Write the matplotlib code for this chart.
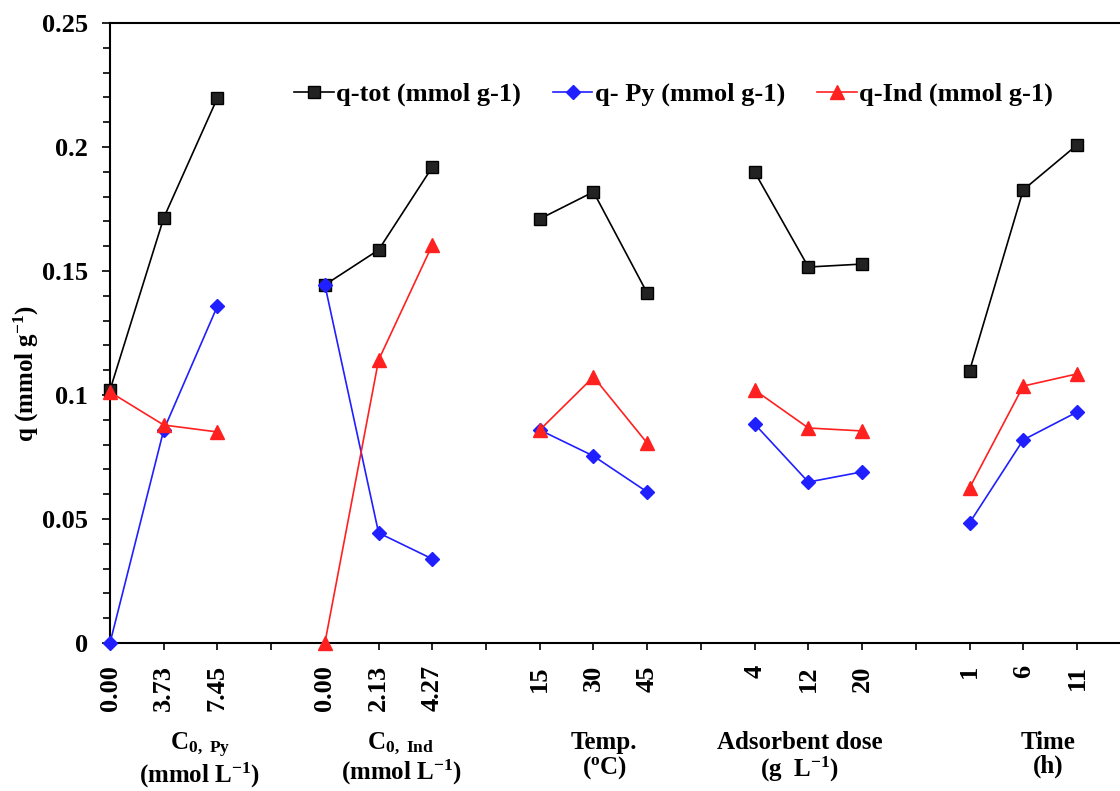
import matplotlib.pyplot as plt
from matplotlib.ticker import MultipleLocator

plt.rcParams['font.family'] = ['Liberation Serif', 'DejaVu Serif']
plt.rcParams['font.weight'] = 'bold'
plt.rcParams['mathtext.fontset'] = 'custom'
plt.rcParams['mathtext.rm'] = 'Liberation Serif:bold'
plt.rcParams['mathtext.it'] = 'Liberation Serif:bold'
plt.rcParams['mathtext.bf'] = 'Liberation Serif:bold'

# five experiment groups, three points each, with a blank slot between groups
tick_labels = ['0.00', '3.73', '7.45', '',
               '0.00', '2.13', '4.27', '',
               '15', '30', '45', '',
               '4', '12', '20', '',
               '1', '6', '11']

q_tot = [[0.102, 0.1714, 0.2198],
         [0.1444, 0.1585, 0.1919],
         [0.171, 0.1819, 0.1411],
         [0.1899, 0.1516, 0.1528],
         [0.1097, 0.1827, 0.2008]]
q_py = [[0.0, 0.0859, 0.1359],
        [0.1444, 0.0444, 0.0339],
        [0.0859, 0.0754, 0.0609],
        [0.0883, 0.0649, 0.069],
        [0.0484, 0.0819, 0.0931]]
q_ind = [[0.1012, 0.0879, 0.0851],
         [0.0, 0.1141, 0.1605],
         [0.0859, 0.1073, 0.0806],
         [0.102, 0.0867, 0.0855],
         [0.0625, 0.1036, 0.1085]]

group_titles = [r'C$_{\mathregular{0,\ Py}}$' + '\n' + r'(mmol L$^{\mathregular{-1}}$)',
                r'C$_{\mathregular{0,\ Ind}}$' + '\n' + r'(mmol L$^{\mathregular{-1}}$)',
                'Temp.\n' + r'($^{\mathregular{o}}$C)',
                'Adsorbent dose\n' + r'(g  L$^{\mathregular{-1}}$)',
                'Time\n(h)']
title_pos = [1.67, 5.42, 9.2, 12.84, 17.47]

fig = plt.figure(figsize=(11.2, 7.91), dpi=100)
ax = fig.add_axes([110 / 1120, 148 / 791, 19 * 53.72 / 1120, 620 / 791])

for g in range(5):
    xs = [g * 4 + i for i in range(3)]
    kw_tot = dict(label='q-tot (mmol g-1)') if g == 0 else {}
    kw_py = dict(label='q- Py (mmol g-1)') if g == 0 else {}
    kw_ind = dict(label='q-Ind (mmol g-1)') if g == 0 else {}
    ax.plot(xs, q_tot[g], color='black', lw=1.2, marker='s', ms=9,
            mfc='#222222', mec='black', clip_on=False, zorder=3, **kw_tot)
    ax.plot(xs, q_py[g], color='#1f1fff', lw=1.2, marker='D', ms=7,
            mfc='#1f1fff', mec='#1f1fff', clip_on=False, zorder=4, **kw_py)
    ax.plot(xs, q_ind[g], color='#ff2020', lw=1.2, marker='^', ms=10,
            mfc='#ff2020', mec='#ff2020', clip_on=False, zorder=5, **kw_ind)

ax.set_xlim(0, 19)
ax.set_ylim(0, 0.25)
ax.set_xticks(range(len(tick_labels)))
ax.set_xticklabels(tick_labels, rotation=90, fontsize=19, fontweight='bold')
ax.set_yticks([0, 0.05, 0.1, 0.15, 0.2, 0.25])
ax.set_yticklabels(['0', '0.05', '0.1', '0.15', '0.2', '0.25'], fontsize=19, fontweight='bold')
ax.yaxis.set_minor_locator(MultipleLocator(0.01))
ax.tick_params(axis='x', direction='out', length=5, width=1.2, pad=11)
ax.tick_params(axis='y', which='major', direction='out', length=6, width=1.2, pad=10)
ax.tick_params(axis='y', which='minor', direction='out', length=5, width=1.2)
for s in ax.spines.values():
    s.set_linewidth(1.5)

ax.set_ylabel(r'q (mmol g$^{\mathregular{-1}}$)', fontsize=18, fontweight='bold')
ax.yaxis.set_label_coords(-0.068, 0.435)

for t, xp in zip(group_titles, title_pos):
    ax.text(xp, -0.0355, t, ha='center', va='top', fontsize=18, fontweight='bold',
            linespacing=1.02, transform=ax.transData, clip_on=False)

ax.legend(loc='center left', bbox_to_anchor=(0.17, 0.885), ncol=3, frameon=False,
          prop={'size': 19, 'weight': 'bold'}, handlelength=1.5, handletextpad=0.1,
          columnspacing=1.2, borderaxespad=0)

fig.savefig('out.png', dpi=100)
